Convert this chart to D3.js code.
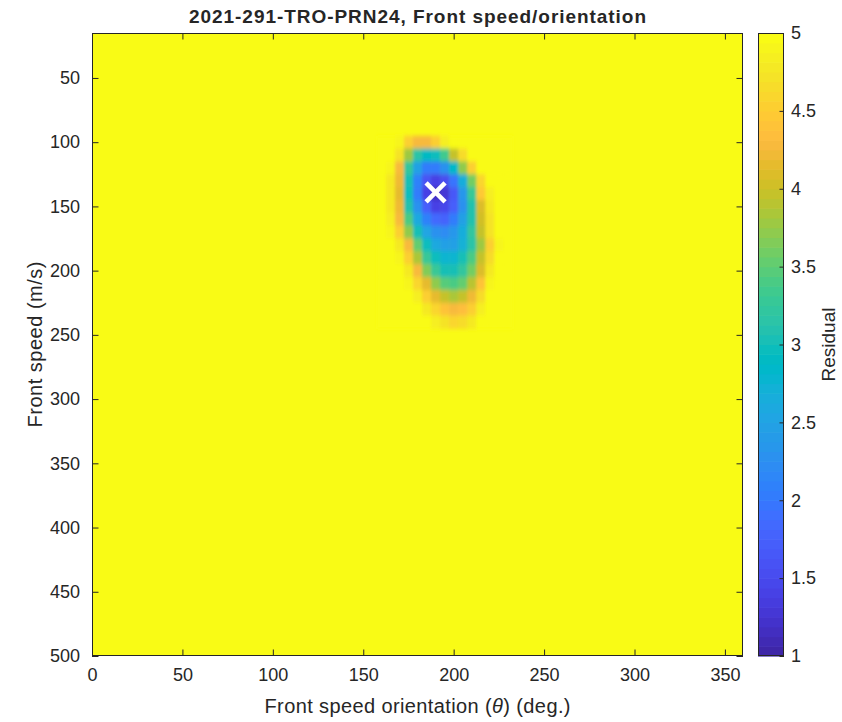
<!DOCTYPE html>
<html>
<head>
<meta charset="utf-8">
<script src="https://cdn.jsdelivr.net/npm/d3@7"></script>
<style>
  html, body { margin: 0; padding: 0; background: #ffffff; }
  svg { display: block; }
  text { font-family: "Liberation Sans", Arial, Helvetica, sans-serif; fill: #262626; }
</style>
</head>
<body>
<svg id="chart" width="842" height="722"></svg>
<script>
// Grid of the residual surface (m/s rows x degree columns); cells outside the grid sit at the cap.
const orientations = [160, 165, 170, 175, 180, 185, 190, 195, 200, 205, 210, 215, 220, 225, 230];
const speeds = [100, 110, 120, 130, 140, 150, 160, 170, 180, 190, 200, 210, 220, 230, 240];
const residual = [
  [5, 5, 4.92, 4.55, 4.25, 4.25, 4.50, 4.85, 5, 5, 5, 5, 5, 5, 5],
  [5, 5, 4.70, 3.80, 3.15, 2.88, 2.96, 3.32, 3.98, 4.65, 5, 5, 5, 5, 5],
  [5, 4.92, 4.30, 3.20, 2.45, 2.05, 2.00, 2.28, 2.85, 3.72, 4.55, 4.95, 5, 5, 5],
  [5, 4.80, 4.20, 3.00, 2.12, 1.58, 1.40, 1.53, 1.96, 2.66, 3.62, 4.60, 4.95, 5, 5],
  [5, 4.78, 4.15, 2.95, 2.00, 1.40, 1.16, 1.25, 1.63, 2.32, 3.30, 4.45, 4.85, 5, 5],
  [5, 4.80, 4.20, 3.12, 2.26, 1.70, 1.42, 1.45, 1.73, 2.27, 3.08, 4.10, 4.75, 5, 5],
  [5, 4.85, 4.30, 3.38, 2.62, 2.10, 1.84, 1.81, 2.02, 2.45, 3.12, 4.00, 4.72, 5, 5],
  [5, 4.92, 4.55, 3.72, 3.02, 2.53, 2.25, 2.19, 2.33, 2.67, 3.21, 3.96, 4.70, 4.95, 5],
  [5, 5, 4.75, 4.30, 3.52, 2.96, 2.60, 2.44, 2.48, 2.72, 3.14, 3.76, 4.50, 4.92, 5],
  [5, 5, 4.92, 4.55, 3.85, 3.30, 2.95, 2.78, 2.80, 3.00, 3.38, 3.96, 4.65, 5, 5],
  [5, 5, 5, 4.75, 4.25, 3.66, 3.26, 3.05, 3.04, 3.21, 3.58, 4.12, 4.75, 5, 5],
  [5, 5, 5, 4.92, 4.62, 4.15, 3.74, 3.48, 3.43, 3.56, 3.90, 4.42, 4.90, 5, 5],
  [5, 5, 5, 5, 4.82, 4.55, 4.18, 3.94, 3.85, 3.94, 4.22, 4.65, 5, 5, 5],
  [5, 5, 5, 5, 4.96, 4.80, 4.58, 4.38, 4.30, 4.36, 4.55, 4.85, 5, 5, 5],
  [5, 5, 5, 5, 5, 4.95, 4.85, 4.70, 4.62, 4.64, 4.80, 4.96, 5, 5, 5]
];
const residualCap = 5;
const orientationStep = 5;
const speedStep = 10;

// Best-fit solution (minimum residual)
const bestOrientation = [190];
const bestSpeed = [139];

// Axis ticks
const xTicks = [0, 50, 100, 150, 200, 250, 300, 350];
const yTicks = [50, 100, 150, 200, 250, 300, 350, 400, 450, 500];
const cTicks = [1, 1.5, 2, 2.5, 3, 3.5, 4, 4.5, 5];

// Text
const titleText = "2021-291-TRO-PRN24, Front speed/orientation";
const yLabelText = "Front speed (m/s)";
const cLabelText = "Residual";

// Parula colour map, 64 entries
const parula = [
  [0.2422,0.1504,0.6603],[0.2504,0.1650,0.7076],[0.2578,0.1818,0.7511],[0.2647,0.1978,0.7952],
  [0.2706,0.2147,0.8364],[0.2751,0.2342,0.8710],[0.2783,0.2559,0.8991],[0.2803,0.2782,0.9221],
  [0.2813,0.3006,0.9414],[0.2810,0.3228,0.9579],[0.2795,0.3447,0.9717],[0.2760,0.3667,0.9829],
  [0.2699,0.3892,0.9906],[0.2602,0.4123,0.9952],[0.2440,0.4358,0.9988],[0.2206,0.4603,0.9973],
  [0.1963,0.4847,0.9892],[0.1834,0.5074,0.9798],[0.1786,0.5289,0.9682],[0.1764,0.5499,0.9520],
  [0.1687,0.5703,0.9359],[0.1540,0.5902,0.9218],[0.1460,0.6091,0.9079],[0.1380,0.6276,0.8973],
  [0.1248,0.6459,0.8883],[0.1113,0.6635,0.8763],[0.0952,0.6798,0.8598],[0.0689,0.6948,0.8394],
  [0.0297,0.7082,0.8163],[0.0036,0.7203,0.7917],[0.0067,0.7312,0.7660],[0.0433,0.7411,0.7394],
  [0.0964,0.7500,0.7120],[0.1408,0.7584,0.6842],[0.1717,0.7670,0.6554],[0.1938,0.7758,0.6251],
  [0.2161,0.7843,0.5923],[0.2470,0.7918,0.5567],[0.2906,0.7973,0.5188],[0.3406,0.8008,0.4789],
  [0.3909,0.8029,0.4354],[0.4456,0.8024,0.3909],[0.5044,0.7993,0.3480],[0.5616,0.7942,0.3045],
  [0.6174,0.7876,0.2612],[0.6720,0.7793,0.2227],[0.7242,0.7698,0.1910],[0.7738,0.7598,0.1646],
  [0.8203,0.7498,0.1535],[0.8634,0.7406,0.1596],[0.9035,0.7330,0.1774],[0.9393,0.7288,0.2100],
  [0.9728,0.7298,0.2394],[0.9956,0.7434,0.2371],[0.9970,0.7659,0.2199],[0.9952,0.7893,0.2028],
  [0.9892,0.8136,0.1885],[0.9786,0.8386,0.1766],[0.9676,0.8639,0.1643],[0.9610,0.8890,0.1537],
  [0.9597,0.9135,0.1423],[0.9628,0.9373,0.1265],[0.9691,0.9606,0.1064],[0.9769,0.9839,0.0805]
].map(c => d3.rgb(c[0] * 255, c[1] * 255, c[2] * 255).formatHex());

const svg = d3.select("#chart");
const axisColor = "#262626";

// Plot frame
const plot = { left: 92, right: 743, top: 33, bottom: 656 };
const cbar = { left: 758, right: 784 };

const x = d3.scaleLinear().domain([0, 360]).range([plot.left, plot.right]);
const y = d3.scaleLinear().domain([15, 500]).range([plot.top, plot.bottom]);
const color = d3.scaleQuantize().domain([1, 5]).range(parula);
const cScale = d3.scaleLinear().domain([1, 5]).range([plot.bottom, plot.top]);

const defs = svg.append("defs");
defs.append("clipPath").attr("id", "plotClip")
  .append("rect")
  .attr("x", plot.left).attr("y", plot.top)
  .attr("width", plot.right - plot.left).attr("height", plot.bottom - plot.top);
const soft = defs.append("filter").attr("id", "soft")
  .attr("x", "-20%").attr("y", "-20%").attr("width", "140%").attr("height", "140%");
soft.append("feGaussianBlur").attr("stdDeviation", "1.6 2.2");

const plotG = svg.append("g").attr("clip-path", "url(#plotClip)");

// Capped background level
plotG.append("rect")
  .attr("x", x(0)).attr("y", y(15))
  .attr("width", x(360) - x(0)).attr("height", y(500) - y(15))
  .attr("fill", color(residualCap));

// Residual cells
const cells = [];
speeds.forEach((s, i) => orientations.forEach((o, j) => cells.push({ o, s, v: residual[i][j] })));
plotG.append("g").attr("filter", "url(#soft)")
  .selectAll("rect").data(cells).join("rect")
  .attr("x", d => x(d.o - orientationStep / 2))
  .attr("y", d => y(d.s - speedStep / 2))
  .attr("width", d => x(d.o + orientationStep / 2) - x(d.o - orientationStep / 2) + 0.5)
  .attr("height", d => y(d.s + speedStep / 2) - y(d.s - speedStep / 2) + 0.5)
  .attr("fill", d => color(Math.min(residualCap, d.v)));

// Best-fit marker
const markerHalf = 9.5;
const best = bestOrientation.map((o, i) => ({ o, s: bestSpeed[i] }));
const mk = svg.append("g").selectAll("g").data(best).join("g")
  .attr("transform", d => `translate(${x(d.o)},${y(d.s)})`);
mk.append("line").attr("x1", -markerHalf).attr("y1", -markerHalf).attr("x2", markerHalf).attr("y2", markerHalf);
mk.append("line").attr("x1", -markerHalf).attr("y1", markerHalf).attr("x2", markerHalf).attr("y2", -markerHalf);
mk.selectAll("line").attr("stroke", "#ffffff").attr("stroke-width", 4.6).attr("stroke-linecap", "butt");

// Axes: ticks inside, labels on bottom and left
const tickLen = 6.5;
function styleAxis(g) {
  g.select(".domain").remove();
  g.selectAll(".tick line").attr("stroke", axisColor).attr("stroke-width", 1);
  g.selectAll(".tick text").attr("fill", axisColor).style("font-size", "18px");
}
svg.append("g").attr("transform", `translate(0,${plot.bottom})`)
  .call(d3.axisBottom(x).tickValues(xTicks).tickFormat(d3.format("d")).tickSizeInner(-tickLen).tickSizeOuter(0).tickPadding(12))
  .call(styleAxis);
svg.append("g").attr("transform", `translate(0,${plot.top})`)
  .call(d3.axisTop(x).tickValues(xTicks).tickFormat("").tickSizeInner(-tickLen).tickSizeOuter(0))
  .call(styleAxis);
svg.append("g").attr("transform", `translate(${plot.left},0)`)
  .call(d3.axisLeft(y).tickValues(yTicks).tickFormat(d3.format("d")).tickSizeInner(-tickLen).tickSizeOuter(0).tickPadding(12))
  .call(styleAxis);
svg.append("g").attr("transform", `translate(${plot.right},0)`)
  .call(d3.axisRight(y).tickValues(yTicks).tickFormat("").tickSizeInner(-tickLen).tickSizeOuter(0))
  .call(styleAxis);

// Box
svg.append("rect")
  .attr("x", plot.left + 0.5).attr("y", plot.top + 0.5)
  .attr("width", plot.right - plot.left - 1).attr("height", plot.bottom - plot.top - 1)
  .attr("fill", "none").attr("stroke", axisColor).attr("stroke-width", 1);

// Colour bar
const cb = svg.append("g");
cb.selectAll("rect").data(parula).join("rect")
  .attr("x", cbar.left)
  .attr("y", (c, i) => cScale(1 + (i + 1) * 4 / parula.length))
  .attr("width", cbar.right - cbar.left)
  .attr("height", (c, i) => cScale(1 + i * 4 / parula.length) - cScale(1 + (i + 1) * 4 / parula.length) + 0.6)
  .attr("fill", c => c);
svg.append("g").attr("transform", `translate(${cbar.right},0)`)
  .call(d3.axisRight(cScale).tickValues(cTicks).tickFormat(d => d).tickSizeInner(-4.5).tickSizeOuter(0).tickPadding(7))
  .call(styleAxis);
svg.append("rect")
  .attr("x", cbar.left + 0.5).attr("y", plot.top + 0.5)
  .attr("width", cbar.right - cbar.left - 1).attr("height", plot.bottom - plot.top - 1)
  .attr("fill", "none").attr("stroke", axisColor).attr("stroke-width", 1);

// Title and labels
svg.append("text")
  .attr("x", (plot.left + plot.right) / 2).attr("y", 23)
  .attr("text-anchor", "middle")
  .style("font-size", "19px").style("font-weight", "bold").attr("fill", "#000000")
  .attr("textLength", 457).attr("lengthAdjust", "spacing")
  .text(titleText);

const xl = svg.append("text")
  .attr("x", (plot.left + plot.right) / 2).attr("y", 713)
  .attr("text-anchor", "middle")
  .style("font-size", "20px")
  .attr("textLength", 306).attr("lengthAdjust", "spacing");
xl.append("tspan").text("Front speed orientation (");
xl.append("tspan").style("font-style", "italic").text("\u03B8");
xl.append("tspan").text(") (deg.)");

svg.append("text")
  .attr("transform", `translate(42,${(plot.top + plot.bottom) / 2}) rotate(-90)`)
  .attr("text-anchor", "middle")
  .style("font-size", "20px")
  .attr("textLength", 166).attr("lengthAdjust", "spacing")
  .text(yLabelText);

svg.append("text")
  .attr("transform", `translate(835,${(plot.top + plot.bottom) / 2}) rotate(-90)`)
  .attr("text-anchor", "middle")
  .style("font-size", "19px")
  .text(cLabelText);
</script>
</body>
</html>
